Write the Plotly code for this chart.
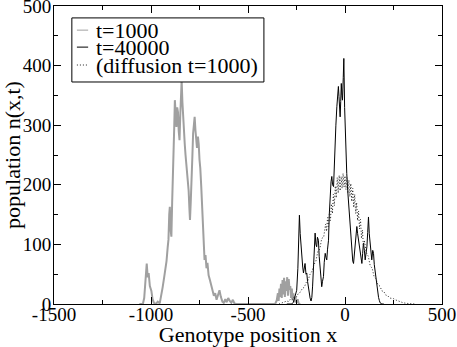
import plotly.graph_objects as go

# t=1000 (gray)
gray_x = [-1060, -1042, -1035, -1028, -1022, -1017, -1012, -1006, -998, -992,
          -985, -975, -965, -955, -948, -940, -932, -926, -920, -914,
          -910, -906, -903, -899, -895, -891, -887, -884, -880, -877,
          -873, -869, -865, -861, -857, -853, -849, -846, -842, -838,
          -834, -830, -826, -822, -818, -814, -810, -806, -802, -799,
          -795, -791, -787, -783, -779, -775, -771, -767, -763, -758,
          -754, -750, -746, -741, -737, -733, -729, -724, -719, -714,
          -709, -703, -696, -690, -683, -676, -669, -662, -655, -647,
          -640, -632, -625, -617, -610, -602, -594, -586, -578, -570,
          -560, -360, -352, -346, -342, -338, -334, -330, -326, -322,
          -318, -314, -310, -306, -302, -298, -294, -290, -286, -282,
          -278, -274, -270, -266, -262, -256, -250, -244, -238, -230]
gray_y = [0, 0, 10, 35, 68, 45, 52, 30, 22, 8,
          2, 0, 4, 1, 12, 28, 45, 58, 72, 95,
          108, 150, 163, 125, 113, 170, 205, 247, 300, 342,
          318, 297, 330, 322, 290, 275, 318, 352, 375, 338,
          309, 295, 268, 250, 236, 228, 214, 190, 160, 141,
          172, 197, 245, 286, 300, 314, 292, 270, 262, 281,
          268, 242, 228, 197, 165, 130, 104, 74, 82, 60,
          69, 48, 40, 30, 23, 14, 18, 7, 15, 23,
          12, 4, 2, 8, 3, 10, 5, 2, 7, 1,
          0, 0, 6, 18, 5, 26, 12, 34, 10, 40,
          16, 44, 12, 38, 22, 45, 14, 42, 24, 30,
          10, 26, 6, 18, 3, 12, 2, 8, 0, 0]

# t=40000 (black)
black_x = [-300, -275, -266, -258, -249, -243, -239, -235, -231, -227,
           -223, -218, -214, -210, -206, -201, -197, -193, -189, -184,
           -180, -175, -171, -167, -163, -159, -154, -150, -146, -142,
           -137, -133, -128, -124, -120, -116, -111, -107, -102, -98,
           -94, -90, -85, -81, -77, -72, -68, -64, -59, -55,
           -51, -47, -42, -38, -34, -31, -28, -25, -22, -19,
           -16, -13, -9, -6, -2, 2, 6, 9, 14, 18,
           22, 27, 31, 35, 40, 44, 48, 52, 56, 61,
           65, 70, 74, 78, 83, 87, 91, 95, 100, 104,
           108, 113, 117, 121, 125, 130, 134, 138, 143, 147,
           151, 156, 160, 164, 169, 173, 177, 181, 190, 200]
black_y = [0, 0, 3, 12, 23, 60, 110, 149, 118, 95,
           85, 62, 52, 63, 68, 50, 52, 38, 29, 15,
           10, 5, 11, 30, 57, 90, 119, 100, 96, 112,
           107, 80, 57, 40, 29, 38, 46, 70, 85, 78,
           74, 92, 107, 150, 186, 205, 214, 200, 197, 240,
           270, 300, 331, 355, 365, 348, 320, 314, 340, 370,
           350, 342, 380, 412, 330, 275, 240, 219, 190, 169,
           150, 130, 105, 85, 72, 68, 80, 96, 115, 130,
           118, 107, 100, 96, 82, 68, 85, 102, 90, 74,
           84, 96, 120, 146, 118, 96, 80, 74, 90, 85,
           66, 52, 40, 29, 18, 11, 6, 2, 0, 0]

# diffusion t=1000 (dotted)
diff_x = [-340, -320, -300, -290, -280, -270, -260, -250, -240, -230,
          -220, -210, -200, -190, -180, -170, -160, -150, -140, -130,
          -120, -110, -100, -95, -90, -85, -80, -75, -70, -65,
          -60, -55, -50, -45, -40, -35, -30, -25, -20, -15,
          -10, -5, 0, 5, 10, 15, 20, 25, 30, 35,
          40, 45, 50, 55, 60, 65, 70, 75, 80, 85,
          90, 95, 100, 110, 120, 130, 140, 150, 160, 170,
          180, 190, 200, 210, 220, 230, 240, 250, 260, 280,
          300, 320, 340, 360]
diff_y = [0, 2, 5, 4, 9, 8, 13, 12, 18, 20,
          26, 28, 36, 40, 50, 55, 66, 72, 88, 92,
          110, 112, 134, 122, 145, 130, 155, 140, 168, 152,
          184, 165, 198, 178, 212, 186, 216, 190, 214, 194,
          219, 196, 215, 192, 212, 186, 208, 180, 202, 172,
          194, 162, 184, 152, 170, 140, 156, 126, 142, 110,
          124, 96, 106, 86, 80, 64, 60, 46, 42, 32,
          30, 22, 21, 15, 14, 10, 10, 9, 7, 4,
          2, 1, 0, 0]

x_ticks = [-1500, -1000, -500, 0, 500]
x_labels = ["-1500", "-1000", "-500", "0", "500"]
y_ticks = [0, 100, 200, 300, 400, 500]

names = ["t=1000", "t=40000", "(diffusion t=1000)"]
colors = ["#a0a0a0", "black", "#222222"]
dashes = ["solid", "solid", "1px,2px"]
widths = [2, 1, 1]

serif = "Liberation Serif, Times New Roman, serif"

fig = go.Figure()
for xs, ys, nm, c, d, w in zip([gray_x, black_x, diff_x], [gray_y, black_y, diff_y],
                               names, colors, dashes, widths):
    fig.add_trace(go.Scatter(x=xs, y=ys, mode="lines", name=nm, showlegend=False,
                             line=dict(color=c, width=w, dash=d)))

# legend drawn by hand so its rows can sit as tightly as in the original
fig.add_shape(type="rect", xref="x domain", yref="y domain",
              x0=0.046, x1=0.541, y0=0.745, y1=0.960,
              line=dict(color="black", width=1), fillcolor="white", layer="above")
row_y = [0.919, 0.862, 0.802]
for nm, c, d, ry in zip(names, colors, dashes, row_y):
    fig.add_shape(type="line", xref="x domain", yref="y domain",
                  x0=0.059, x1=0.088, y0=ry, y1=ry, layer="above",
                  line=dict(color=c, width=1, dash=d))
    fig.add_annotation(xref="x domain", yref="y domain", x=0.104, y=ry,
                       xanchor="left", yanchor="middle", showarrow=False,
                       text=nm, font=dict(family=serif, size=22, color="black"))

axis_common = dict(
    showline=True, linecolor="black", linewidth=1, mirror="ticks",
    ticks="inside", ticklen=7, tickcolor="black", showgrid=False, zeroline=False,
    automargin=False, ticklabeloverflow="allow",
    tickfont=dict(family=serif, size=19, color="black"),
)

fig.update_layout(
    width=457, height=347,
    margin=dict(l=54, r=15, t=6, b=43),
    paper_bgcolor="white", plot_bgcolor="white",
    font=dict(family=serif, color="black"),
    showlegend=False,
    xaxis=dict(range=[-1500, 500], tickvals=x_ticks, ticktext=x_labels,
               ticklabelstandoff=-7,
               minor=dict(ticks="inside", ticklen=4, dtick=250, tickcolor="black"),
               title=dict(text="Genotype position x", standoff=0,
                          font=dict(family=serif, size=22, color="black")),
               **axis_common),
    yaxis=dict(range=[0, 500], tickvals=y_ticks, ticklabelstandoff=-2,
               minor=dict(ticks="inside", ticklen=4, dtick=50, tickcolor="black"),
               title=dict(text="population n(x,t)", standoff=0,
                          font=dict(family=serif, size=22, color="black")),
               **axis_common),
)

# the page's default body margin would push the figure 8px off the window
fig.write_html("out.html", config={"displayModeBar": False},
               post_script="document.body.style.margin='0';")
